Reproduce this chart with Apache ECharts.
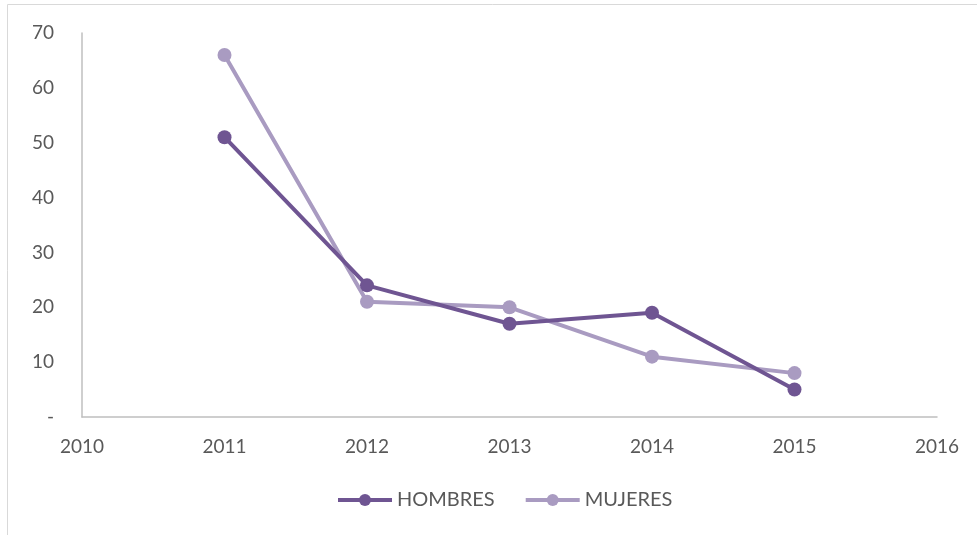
<!DOCTYPE html>
<html>
<head>
<meta charset="utf-8">
<script src="https://cdn.jsdelivr.net/npm/echarts@6/dist/echarts.min.js"></script>
<style>
html, body { margin: 0; padding: 0; background: #fff; }
#chart { width: 977px; height: 535px; }
</style>
</head>
<body>
<div id="chart"></div>
<script>
const years = [2011, 2012, 2013, 2014, 2015]
const hombres = [51, 24, 17, 19, 5]
const mujeres = [66, 21, 20, 11, 8]

const textColor = "#595959"
const font = "Lato, 'Noto Sans', sans-serif"

const chart = echarts.init(document.getElementById("chart"))

const makeSeries = (name, values, color) => ({
	name,
	type: "line",
	data: years.map((y, i) => [y, values[i]]),
	symbol: "circle",
	symbolSize: 14,
	lineStyle: { color, width: 4 },
	itemStyle: { color },
	z: name === "HOMBRES" ? 3 : 2,
})

chart.setOption({
	animation: false,
	textStyle: { fontFamily: font },
	graphic: [
		{
			type: "rect",
			shape: { x: 7.5, y: 4.5, width: 1000, height: 600 },
			style: { fill: "none", stroke: "#d9d9d9", lineWidth: 1 },
			silent: true,
		},
	],
	grid: { left: 82, right: 40, top: 33, bottom: 118 },
	legend: {
		bottom: 25,
		left: 336,
		padding: 0,
		itemWidth: 54,
		itemHeight: 15,
		itemGap: 29,
		lineStyle: { width: 4 },
		textStyle: { color: textColor, fontSize: 20, fontFamily: font },
		data: ["HOMBRES", "MUJERES"],
	},
	xAxis: {
		type: "value",
		min: 2010,
		max: 2016,
		interval: 1,
		axisLine: { show: true, lineStyle: { color: "#bfbfbf", width: 1.5 } },
		axisTick: { show: false },
		splitLine: { show: false },
		axisLabel: { color: textColor, fontSize: 19, margin: 20, formatter: v => String(v) },
	},
	yAxis: {
		type: "value",
		min: 0,
		max: 70,
		interval: 10,
		axisLine: { show: true, lineStyle: { color: "#bfbfbf", width: 1.5 } },
		axisTick: { show: false },
		splitLine: { show: false },
		axisLabel: { color: textColor, fontSize: 19, margin: 28, formatter: v => (v === 0 ? "-" : String(v)) },
	},
	series: [makeSeries("HOMBRES", hombres, "#6f5592"), makeSeries("MUJERES", mujeres, "#a99bc1")],
})
</script>
</body>
</html>
